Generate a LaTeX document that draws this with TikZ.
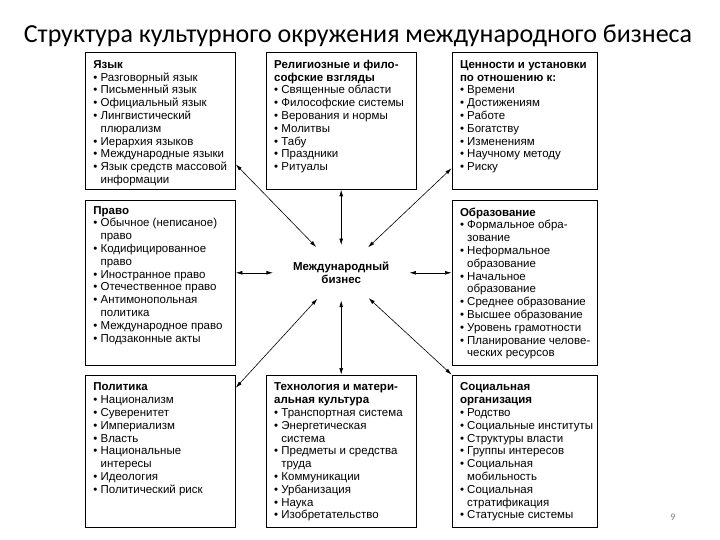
\documentclass[tikz,border=0pt]{standalone}
\usepackage{fontspec}
\setmainfont{Liberation Sans}
\newfontfamily\titlefont{Carlito}
\usepackage{tikz}
\usetikzlibrary{arrows.meta, positioning, shapes.geometric}

\newcommand{\bitem}{\textbullet\ }
\newcommand{\bcont}{\hphantom{\textbullet\ }}
\newcommand{\cell}[3]{\parbox[t][#1][t]{#2}{\begin{tabular}[t]{@{}l@{}}#3\end{tabular}}}

\begin{document}
\begin{tikzpicture}[
    x=1pt, y=-1pt,
    box/.style={rectangle, draw=black, line width=0.8pt, inner xsep=8pt, inner ysep=7pt, anchor=north west, font=\fontsize{11.5}{12.8}\selectfont},
    hub/.style={ellipse, minimum width=110pt, minimum height=55pt, inner sep=0pt, align=center, font=\bfseries\fontsize{11.5}{12.5}\selectfont},
    link/.style={{Latex[length=6.5pt,width=3.8pt]}-{Latex[length=6.5pt,width=3.8pt]}, line width=0.6pt}
]
\useasboundingbox (0,0) rectangle (720,540);

\node[font=\titlefont\fontsize{26}{30}\selectfont, anchor=base] (title) at (358,43) {Структура культурного окружения международного бизнеса};

\node[box] (lang) at (85,52) {\cell{123pt}{134pt}{\textbf{Язык}\\
    \bitem Разговорный язык\\ \bitem Письменный язык\\ \bitem Официальный язык\\
    \bitem Лингвистический\\ \bcont плюрализм\\ \bitem Иерархия языков\\
    \bitem Международные языки\\ \bitem Язык средств массовой\\ \bcont информации}};
\node[box, right=30pt of lang.north east, anchor=north west] (rel) {\cell{123pt}{134pt}{\textbf{Религиозные и фило-}\\ \textbf{софские взгляды}\\
    \bitem Священные области\\ \bitem Философские системы\\ \bitem Верования и нормы\\
    \bitem Молитвы\\ \bitem Табу\\ \bitem Праздники\\ \bitem Ритуалы}};
\node[box, inner xsep=8pt, right=35pt of rel.north east, anchor=north west] (val) {\cell{123pt}{129pt}{\textbf{Ценности и установки}\\ \textbf{по отношению к:}\\
    \bitem Времени\\ \bitem Достижениям\\ \bitem Работе\\ \bitem Богатству\\
    \bitem Изменениям\\ \bitem Научному методу\\ \bitem Риску}};

\node[box, inner ysep=5pt, below=10pt of lang.south west, anchor=north west] (law) {\cell{155pt}{134pt}{\textbf{Право}\\
    \bitem Обычное (неписаное)\\ \bcont право\\ \bitem Кодифицированное\\ \bcont право\\
    \bitem Иностранное право\\ \bitem Отечественное право\\ \bitem Антимонопольная\\ \bcont политика\\
    \bitem Международное право\\ \bitem Подзаконные акты}};
\node[box, inner xsep=8pt, below=10pt of val.south west, anchor=north west] (edu) {\cell{151pt}{129pt}{\textbf{Образование}\\
    \bitem Формальное обра-\\ \bcont зование\\ \bitem Неформальное\\ \bcont образование\\
    \bitem Начальное\\ \bcont образование\\ \bitem Среднее образование\\ \bitem Высшее образование\\
    \bitem Уровень грамотности\\ \bitem Планирование челове-\\ \bcont ческих ресурсов}};

\node[box, below=9pt of law.south west, anchor=north west] (pol) {\cell{138pt}{134pt}{\textbf{Политика}\\
    \bitem Национализм\\ \bitem Суверенитет\\ \bitem Империализм\\ \bitem Власть\\
    \bitem Национальные\\ \bcont интересы\\ \bitem Идеология\\ \bitem Политический риск}};
\node[box, right=30pt of pol.north east, anchor=north west] (tech) {\cell{138pt}{134pt}{\textbf{Технология и матери-}\\ \textbf{альная культура}\\
    \bitem Транспортная система\\ \bitem Энергетическая\\ \bcont система\\
    \bitem Предметы и средства\\ \bcont труда\\ \bitem Коммуникации\\ \bitem Урбанизация\\
    \bitem Наука\\ \bitem Изобретательство}};
\node[box, inner xsep=8pt, right=35pt of tech.north east, anchor=north west] (soc) {\cell{138pt}{129pt}{\textbf{Социальная}\\ \textbf{организация}\\
    \bitem Родство\\ \bitem Социальные институты\\ \bitem Структуры власти\\ \bitem Группы интересов\\
    \bitem Социальная\\ \bcont мобильность\\ \bitem Социальная\\ \bcont стратификация\\
    \bitem Статусные системы}};

\node[hub, below=83pt of rel, anchor=center] (mib) {Международный\\бизнес};

\draw[link] (lang.-30) -- (mib);
\draw[link] (rel) -- (mib);
\draw[link] (val.213) -- (mib);
\draw[link] (law.east |- mib) -- (mib);
\draw[link] (mib) -- (edu.west |- mib);
\draw[link] (pol.40) -- (mib);
\draw[link] (tech) -- (mib);
\draw[link] (soc.north west) -- (mib);

\node[font=\titlefont\fontsize{10}{12}\selectfont, text=gray] (page) at (673,517) {9};
\end{tikzpicture}
\end{document}
